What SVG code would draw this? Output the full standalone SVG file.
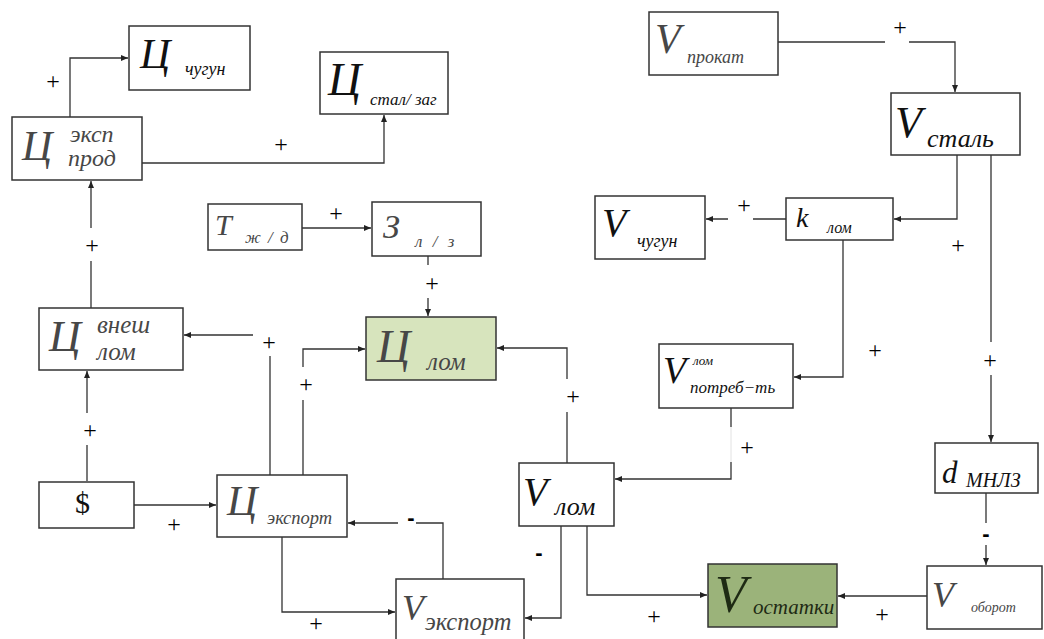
<svg xmlns="http://www.w3.org/2000/svg" width="1044" height="639" viewBox="0 0 1044 639">
<style>
.box{fill:#ffffff;stroke:#333333;stroke-width:1.5}
.g1{fill:#d7e4bd}
.g2{fill:#9bb37a}
.t{font-family:"Liberation Serif","Times New Roman",serif;font-style:italic}
.dk{fill:#111111}
.gr{fill:#474747}
.c{fill:none;stroke:#333333;stroke-width:1.3}
.faint{fill:none;stroke:#e2e2e2;stroke-width:1}
.p{font-family:"Liberation Serif","Times New Roman",serif;font-size:24px;fill:#000000;text-anchor:middle}
.m{font-family:"Liberation Sans",Arial,sans-serif;font-size:22px;font-weight:bold;fill:#000000;text-anchor:middle}
</style>
<defs>
<marker id="ah" markerUnits="userSpaceOnUse" markerWidth="8" markerHeight="8" refX="7" refY="4" orient="auto">
<path d="M0,1 L7,4 L0,7 Z" fill="#222222"/>
</marker>
</defs>
<rect width="1044" height="639" fill="#ffffff"/>

<g id="connectors">
<path class="c" d="M70,117 V58 H128" marker-end="url(#ah)"/>
<path class="c" d="M142,163 H384 V115" marker-end="url(#ah)"/>
<path class="c" d="M91,308 V261 M91,228 V181" marker-end="url(#ah)"/>
<path class="c" d="M87,481 V445 M87,413 V371" marker-end="url(#ah)"/>
<path class="c" d="M302,228 H371" marker-end="url(#ah)"/>
<path class="c" d="M428,256 V265 M428,298 V316" marker-end="url(#ah)"/>
<path class="c" d="M270,475 V356 M253,335 H184" marker-end="url(#ah)"/>
<path class="c" d="M303,475 V400 M303,367 V349 H365" marker-end="url(#ah)"/>
<path class="c" d="M134,505 H216" marker-end="url(#ah)"/>
<path class="c" d="M282,537 V612 H395" marker-end="url(#ah)"/>
<path class="c" d="M443,579 V523 H416 M398,523 H348" marker-end="url(#ah)"/>
<path class="c" d="M567,463 V412 M567,379 V348 H497" marker-end="url(#ah)"/>
<path class="c" d="M561,526 V618 H525" marker-end="url(#ah)"/>
<path class="c" d="M587,526 V595 H707" marker-end="url(#ah)"/>
<path class="c" d="M927,596 H838" marker-end="url(#ah)"/>
<path class="c" d="M986,493 V523 M986,545 V565" marker-end="url(#ah)"/>
<path class="faint" d="M731,427 V462"/>
<path class="c" d="M731,408 V427 M731,462 V479 H615" marker-end="url(#ah)"/>
<path class="c" d="M843,240 V377 H794" marker-end="url(#ah)"/>
<path class="c" d="M957,155 V219 H894" marker-end="url(#ah)"/>
<path class="c" d="M991,155 V342 M991,375 V442" marker-end="url(#ah)"/>
<path class="c" d="M786,219 H753 M728,219 H706" marker-end="url(#ah)"/>
<path class="c" d="M778,42 H885 M909,42 H955 V92" marker-end="url(#ah)"/>
</g>

<g id="labels">
<text class="p" x="53" y="89">+</text>
<text class="p" x="281" y="152">+</text>
<text class="p" x="92" y="253">+</text>
<text class="p" x="336" y="221">+</text>
<text class="p" x="432" y="291">+</text>
<text class="p" x="269" y="350">+</text>
<text class="p" x="306" y="392">+</text>
<text class="p" x="90" y="438">+</text>
<text class="p" x="174" y="532">+</text>
<text class="p" x="316" y="631">+</text>
<text class="p" x="573" y="404">+</text>
<text class="p" x="900" y="35">+</text>
<text class="p" x="744" y="213">+</text>
<text class="p" x="958" y="253">+</text>
<text class="p" x="875" y="358">+</text>
<text class="p" x="990" y="368">+</text>
<text class="p" x="747" y="455">+</text>
<text class="p" x="654" y="624">+</text>
<text class="p" x="882" y="622">+</text>
<text class="m" x="411" y="525">-</text>
<text class="m" x="539" y="560">-</text>
<text class="m" x="986" y="541">-</text>
</g>

<g id="node-ts-chugun">
<rect class="box" x="129" y="26" width="121" height="64"/>
<text class="t dk" x="140" y="68" font-size="42">Ц</text>
<text class="t dk" x="185" y="75" font-size="18">чугун</text>
</g>

<g id="node-ts-stal-zag">
<rect class="box" x="320" y="52" width="128" height="62"/>
<text class="t dk" x="328" y="95" font-size="46">Ц</text>
<text class="t dk" x="370" y="105" font-size="17">стал/ заг</text>
</g>

<g id="node-ts-eksp-prod">
<rect class="box" x="12" y="117" width="130" height="63"/>
<text class="t gr" x="22" y="160" font-size="42">Ц</text>
<text class="t gr" x="70" y="142" font-size="24">эксп</text>
<text class="t gr" x="68" y="166" font-size="24">прод</text>
</g>

<g id="node-t-zhd">
<rect class="box" x="208" y="204" width="94" height="46"/>
<text class="t gr" x="215" y="235" font-size="30">Т</text>
<text class="t gr" x="245" y="243" font-size="17" word-spacing="3">ж / д</text>
</g>

<g id="node-z-lz">
<rect class="box" x="372" y="202" width="109" height="54"/>
<text class="t gr" x="383" y="238" font-size="34">З</text>
<text class="t gr" x="415" y="247" font-size="17" word-spacing="6">л / з</text>
</g>

<g id="node-ts-vnesh-lom">
<rect class="box" x="39" y="308" width="144" height="62"/>
<text class="t gr" x="49" y="351" font-size="44">Ц</text>
<text class="t gr" x="97" y="333" font-size="25">внеш</text>
<text class="t gr" x="97" y="360" font-size="25">лом</text>
</g>

<g id="node-ts-lom">
<rect class="box g1" x="366" y="317" width="130" height="63"/>
<text class="t gr" x="377" y="362" font-size="46">Ц</text>
<text class="t gr" x="427" y="370" font-size="25">лом</text>
</g>

<g id="node-dollar">
<rect class="box" x="39" y="482" width="95" height="46"/>
<text x="75" y="513" font-family="Liberation Serif, Times New Roman, serif" font-size="30" fill="#111111">$</text>
</g>

<g id="node-ts-eksport">
<rect class="box" x="217" y="475" width="130" height="62"/>
<text class="t gr" x="227" y="515" font-size="42">Ц</text>
<text class="t gr" x="267" y="524" font-size="18.5">экспорт</text>
</g>

<g id="node-v-eksport">
<rect class="box" x="396" y="579" width="128" height="70"/>
<text class="t gr" x="402" y="620" font-size="36">V</text>
<text class="t gr" x="425" y="630" font-size="24.5">экспорт</text>
</g>

<g id="node-v-lom">
<rect class="box" x="519" y="463" width="95" height="63"/>
<text class="t dk" x="523" y="505" font-size="40">V</text>
<text class="t dk" x="555" y="515" font-size="26">лом</text>
</g>

<g id="node-v-ostatki">
<rect class="box g2" x="708" y="564" width="129" height="63"/>
<text class="t" x="715" y="612" font-size="52" fill="#1e2a14">V</text>
<text class="t" x="753" y="614" font-size="21" fill="#1e2a14">остатки</text>
</g>

<g id="node-v-oborot">
<rect class="box" x="927" y="566" width="115" height="63"/>
<text class="t gr" x="932" y="607" font-size="36">V</text>
<text class="t gr" x="971" y="612" font-size="14">оборот</text>
</g>

<g id="node-d-mnlz">
<rect class="box" x="935" y="443" width="103" height="50"/>
<text class="t dk" x="942" y="483" font-size="31">d</text>
<text class="t dk" x="966" y="487" font-size="20">МНЛЗ</text>
</g>

<g id="node-v-potreb">
<rect class="box" x="659" y="344" width="134" height="64"/>
<text class="t dk" x="663" y="383" font-size="38">V</text>
<text class="t dk" x="693" y="365" font-size="13">лом</text>
<text class="t dk" x="690" y="393" font-size="17">потреб−ть</text>
</g>

<g id="node-v-chugun">
<rect class="box" x="595" y="196" width="110" height="63"/>
<text class="t dk" x="602" y="236" font-size="40">V</text>
<text class="t dk" x="637" y="247" font-size="18">чугун</text>
</g>

<g id="node-k-lom">
<rect class="box" x="786" y="198" width="107" height="42"/>
<text class="t dk" x="796" y="227" font-size="28">k</text>
<text class="t dk" x="827" y="233" font-size="16">лом</text>
</g>

<g id="node-v-stal">
<rect class="box" x="891" y="93" width="129" height="62"/>
<text class="t dk" x="895" y="137" font-size="44">V</text>
<text class="t dk" x="927" y="147" font-size="26">сталь</text>
</g>

<g id="node-v-prokat">
<rect class="box" x="649" y="12" width="129" height="63"/>
<text class="t gr" x="655" y="53" font-size="42">V</text>
<text class="t gr" x="687" y="63" font-size="18">прокат</text>
</g>
</svg>
